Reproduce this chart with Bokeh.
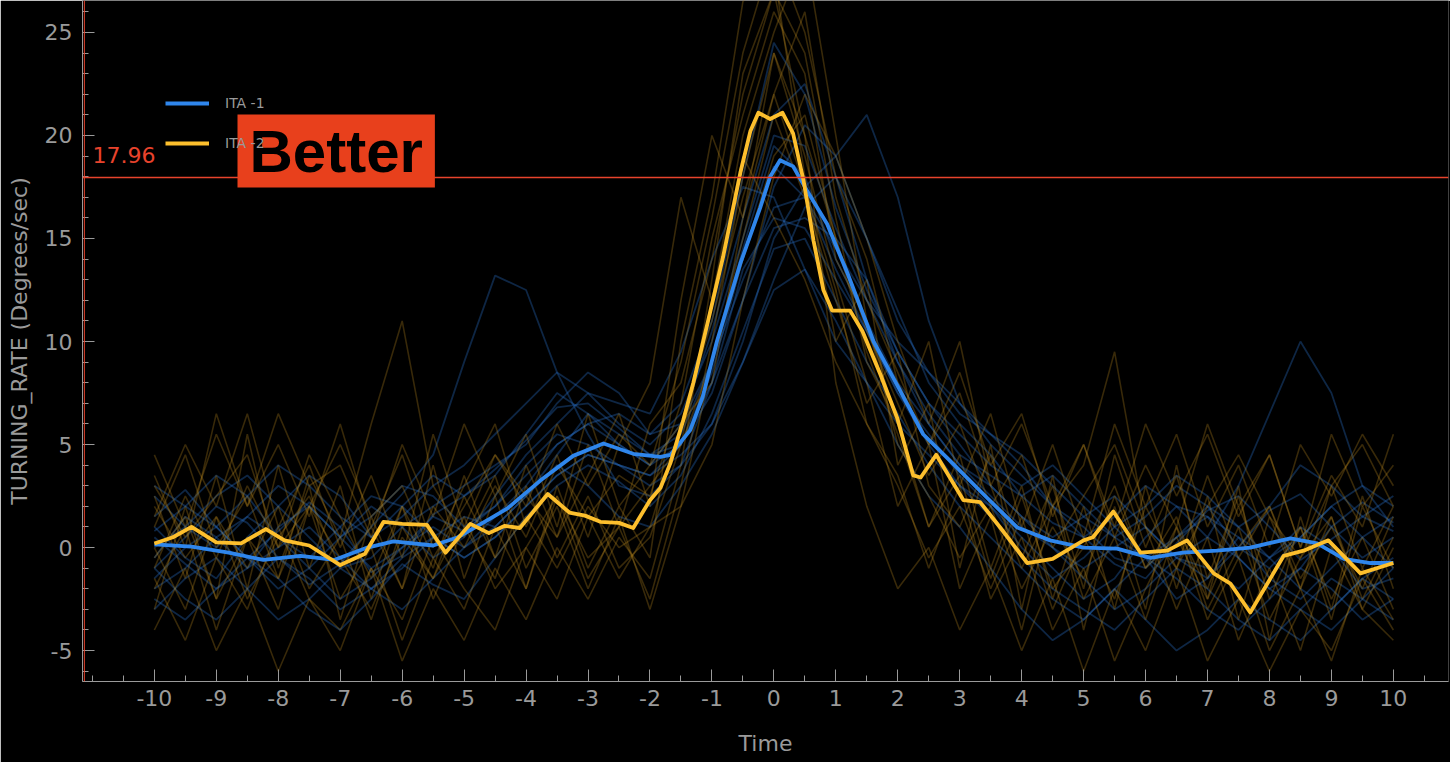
from bokeh.plotting import figure
from bokeh.models import Span, Label, Legend, LegendItem, Range1d, FixedTicker
from bokeh.embed import file_html
from bokeh.resources import INLINE

# ---------------- data ----------------
series_names = ["ITA -1", "ITA -2"]

# mean curve, ITA -1 (blue)
blue_t = [-10, -9.4, -8.8, -8.24, -7.64, -7.1, -6.56, -6.14, -5.5, -5.1, -4.58, -4.3, -3.77,
          -3.24, -2.75, -2.27, -1.83, -1.67, -1.35, -1.15, -0.92, -0.54, -0.22, -0.06, 0.1,
          0.31, 0.54, 0.86, 1.19, 1.61, 2.04, 2.41, 2.85, 3.38, 3.93, 4.46, 5.0, 5.54, 6.08,
          6.6, 7.15, 7.69, 8.34, 8.77, 9.2, 9.63, 10]
blue_v = [0.15, 0.05, -0.25, -0.6, -0.4, -0.6, 0.0, 0.3, 0.1, 0.5, 1.4, 1.9, 3.25,
          4.45, 5.05, 4.55, 4.4, 4.5, 5.7, 7.3, 10.0, 13.8, 16.5, 18.0, 18.8,
          18.5, 17.3, 15.7, 13.3, 10.0, 7.6, 5.5, 4.2, 2.6, 0.97, 0.35, 0.0, -0.05, -0.5,
          -0.25, -0.15, 0.0, 0.45, 0.2, -0.55, -0.75, -0.75]

# mean curve, second series (yellow)
yellow_t = [-10, -9.7, -9.4, -9.0, -8.6, -8.2, -7.9, -7.5, -7.0, -6.6, -6.3, -6.0, -5.6, -5.3,
            -4.9, -4.6, -4.35, -4.1, -3.65, -3.3, -3.05, -2.8, -2.5, -2.27, -2.0, -1.83,
            -1.67, -1.46, -1.3, -1.07, -0.82, -0.54, -0.38, -0.25, -0.06, 0.14, 0.31, 0.48,
            0.64, 0.8, 0.94, 1.23, 1.43, 1.72, 1.99, 2.25, 2.37, 2.62, 3.06, 3.33, 3.66,
            4.09, 4.5, 5.0, 5.15, 5.48, 5.92, 6.35, 6.67, 7.1, 7.37, 7.69, 8.23, 8.55, 8.95,
            9.47, 10]
yellow_v = [0.2, 0.5, 1.0, 0.25, 0.2, 0.9, 0.35, 0.1, -0.85, -0.3, 1.25, 1.15, 1.1, -0.25,
            1.15, 0.7, 1.05, 0.95, 2.6, 1.7, 1.55, 1.25, 1.2, 0.95, 2.3, 2.9,
            4.1, 6.2, 8.0, 10.9, 14.1, 18.2, 20.2, 21.1, 20.8, 21.1, 20.1, 17.8,
            14.9, 12.5, 11.5, 11.5, 10.5, 8.4, 6.3, 3.5, 3.4, 4.5, 2.3, 2.2, 0.95,
            -0.75, -0.55, 0.35, 0.5, 1.75, -0.25, -0.15, 0.35, -1.25, -1.75, -3.15, -0.4, -0.15, 0.35,
            -1.25, -0.75]

# individual (faint) trials, sampled every 0.5 s from -10 to 10
trial_t = [-10, -9.5, -9, -8.5, -8, -7.5, -7, -6.5, -6, -5.5, -5, -4.5, -4, -3.5, -3, -2.5,
           -2, -1.5, -1, -0.5, 0, 0.5, 1, 1.5, 2, 2.5, 3, 3.5, 4, 4.5, 5, 5.5, 6, 6.5, 7,
           7.5, 8, 8.5, 9, 9.5, 10]

blue_trials = [
    [1.5, 2.8, 1.0, -0.5, 0.8, 2.2, 1.0, -1.2, -0.4, 1.6, 2.5, 3.8, 5.2, 6.8, 7.0, 5.8, 4.5, 5.0, 7.5, 12.0, 17.5,
     20.5, 19.0, 15.0, 11.5, 8.0, 6.0, 4.5, 2.5, 1.2, 0.5, -0.8, -1.5, 0.2, 1.8, 2.5, 1.0, -0.6, 0.4, 1.5, 0.8],
    [-1.0, 0.5, 2.0, 1.2, -0.5, -1.8, -0.8, 1.0, 2.6, 4.5, 9.0, 13.2, 12.5, 8.5, 5.5, 3.0, 2.5, 4.0, 8.0, 13.5, 16.0,
     15.5, 13.0, 10.5, 7.5, 5.5, 3.5, 2.0, 0.5, -1.0, -2.5, -1.5, 0.5, 2.0, 1.5, -0.5, -2.0, -1.0, 1.0, 2.2, 1.2],
    [-2.5, -3.5, -2.0, -0.5, -1.5, -3.0, -4.0, -2.5, -0.8, -1.8, -2.5, -0.5, 1.5, 3.0, 4.0, 3.2, 2.0, 3.5, 6.5, 10.5, 14.5,
     15.0, 12.0, 9.0, 6.5, 4.0, 2.0, 0.5, -1.0, -2.5, -3.5, -2.0, -0.5, -1.5, -3.0, -4.0, -2.5, -1.0, -2.0, -3.5, -2.5],
    [0.5, -0.8, -2.0, -1.0, 1.0, 2.0, 0.5, -1.0, 0.0, 1.5, 0.8, 2.0, 3.5, 5.0, 6.0, 6.5, 5.5, 7.0, 11.0, 18.0, 24.5,
     22.0, 16.5, 12.5, 9.5, 7.0, 5.0, 3.0, 1.5, 0.5, 1.5, 2.5, 1.0, -0.5, -1.5, 0.0, 1.8, 2.6, 1.0, -0.5, 0.5],
    [2.5, 1.0, 0.0, 1.5, 3.0, 2.0, 0.5, 1.5, 3.0, 2.5, 1.0, 2.0, 4.0, 5.5, 5.0, 4.0, 3.5, 4.5, 6.0, 9.0, 13.0,
     16.5, 18.0, 15.0, 11.0, 8.5, 6.5, 5.5, 4.0, 2.0, 0.5, 1.5, 3.0, 2.0, 0.5, 3.0, 6.5, 10.0, 7.5, 3.0, 1.0],
    [-1.5, 0.0, 1.0, -0.5, -2.0, -1.0, 0.5, 2.0, 1.0, -0.5, 0.5, 2.5, 4.5, 6.0, 7.5, 7.0, 6.5, 9.5, 14.0, 17.5, 17.0,
     13.5, 10.0, 8.0, 6.0, 4.5, 3.0, 2.0, 0.0, -1.5, -0.5, 1.0, -0.5, -2.5, -1.5, 0.5, -0.5, -2.0, -3.0, -1.5, -0.5],
    [0.8, 2.0, 3.5, 2.5, 0.5, -0.5, 1.0, 2.5, 2.0, 0.5, -0.5, 0.5, 2.0, 3.5, 4.5, 4.0, 3.0, 4.0, 6.0, 10.0, 15.0,
     17.5, 19.0, 21.0, 17.0, 11.0, 7.0, 5.0, 3.5, 2.0, 1.0, -0.5, -1.0, 0.5, 2.0, 1.0, -0.5, 0.5, 2.0, 3.0, 2.0],
    [-3.0, -1.5, -0.5, -2.0, -3.5, -2.5, -1.0, -2.0, -3.0, -1.5, 0.0, 1.0, 2.5, 4.0, 3.0, 1.5, 1.0, 3.0, 5.5, 9.0, 12.5,
     13.5, 11.0, 8.0, 5.0, 2.5, 1.0, -1.0, -3.0, -4.5, -3.5, -2.0, -3.5, -5.0, -4.0, -2.5, -3.5, -4.5, -3.0, -1.5, -2.5],
    [1.0, -0.5, -1.5, 0.5, 2.0, 3.5, 2.5, 0.5, 1.5, 3.0, 4.0, 5.5, 7.0, 8.5, 7.5, 6.0, 5.0, 6.5, 10.0, 15.0, 20.0,
     19.5, 15.5, 12.0, 9.0, 6.5, 4.5, 3.5, 2.5, 3.5, 2.0, 0.5, 1.5, 3.0, 2.0, 0.0, -1.0, 0.5, 2.0, 0.5, -1.0],
    [-0.5, 1.5, 0.5, -1.0, 0.0, 1.0, -0.5, -2.0, -1.0, 0.5, 1.5, 1.0, 2.5, 4.5, 6.5, 5.5, 4.5, 5.5, 9.0, 14.5, 19.5,
     18.0, 14.0, 11.0, 8.0, 6.0, 4.0, 2.5, 1.0, 0.0, -1.0, 0.0, 1.0, -0.5, -1.0, -2.0, -0.5, 1.0, 0.0, -2.0, -1.5],
    [0.0, 1.0, 2.5, 3.5, 2.0, 0.5, -1.0, -0.5, 1.0, 2.0, 3.0, 4.0, 5.0, 7.0, 8.5, 7.5, 5.5, 6.0, 9.0, 13.0, 16.5,
     17.0, 14.5, 12.0, 10.0, 8.5, 7.0, 5.5, 4.5, 3.0, 1.5, 0.5, -0.5, 0.5, 1.5, 0.5, -1.5, -2.5, -1.0, 0.5, 1.5],
    [-2.0, -1.0, 0.5, 1.5, 0.5, -1.0, -2.5, -1.5, 0.0, 1.0, 0.0, 1.5, 3.0, 5.0, 6.0, 5.0, 4.0, 6.0, 10.5, 16.0, 21.0,
     22.5, 18.0, 13.0, 9.0, 6.0, 4.0, 3.0, 1.5, 0.0, -1.5, -3.0, -2.0, -0.5, 0.5, -0.5, -2.0, -3.0, -4.0, -2.5, -1.0],
    [3.0, 2.0, 1.0, 2.5, 4.0, 3.0, 1.5, 0.5, 2.0, 3.5, 2.5, 3.5, 5.5, 7.5, 6.5, 5.0, 4.0, 5.0, 8.0, 12.0, 15.5,
     16.0, 15.0, 13.0, 9.5, 7.0, 5.5, 4.0, 3.0, 4.0, 2.5, 1.0, 2.0, 3.5, 2.5, 1.0, 2.0, 4.0, 3.0, 1.5, 2.5],
    [-1.0, -2.5, -3.5, -2.0, -0.5, -1.5, -3.0, -2.0, -0.5, 0.5, -0.5, 0.5, 2.0, 3.5, 4.5, 4.0, 3.5, 5.0, 8.5, 14.0, 18.5,
     17.0, 13.5, 10.5, 7.5, 5.0, 3.0, 1.5, -0.5, -2.0, -3.0, -4.0, -2.5, -1.0, -2.0, -3.5, -4.5, -3.0, -1.5, -2.5, -3.5],
]

yellow_trials = [
    [2.5, -1.5, 3.5, -2.0, 4.0, -1.0, 3.0, -2.5, 2.0, -1.0, 3.5, -0.5, 4.0, 0.5, 5.0, 1.0, 6.0, 8.0, 14.0, 22.0, 27.0,
     24.0, 16.0, 9.0, 6.0, 1.0, 4.5, -1.0, 3.0, -2.5, 2.0, -3.0, 3.0, -2.0, 2.5, -3.5, 1.5, -2.0, 3.0, -1.0, 2.0],
    [-3.0, 2.0, -2.5, 5.5, -1.0, 3.0, -3.5, 1.5, -2.0, 4.0, -1.5, 2.5, -2.0, 3.0, -1.0, 2.0, -0.5, 10.0, 17.0, 26.5, 28.0,
     18.0, 10.0, 13.0, 4.0, 7.0, -1.0, 5.0, -3.0, 3.5, -4.0, 2.0, -3.0, 4.0, -2.5, 3.0, -4.5, 1.5, -3.0, 2.5, -2.0],
    [1.0, 4.5, 0.0, 2.5, -1.5, 3.5, 0.5, 6.0, 11.0, 3.0, 0.5, 3.5, -1.0, 2.0, -2.0, 1.5, -3.0, 2.0, 9.0, 15.0, 21.0,
     17.0, 12.0, 7.0, 9.5, 3.0, 1.0, 4.5, -0.5, 3.0, -2.0, 4.5, 0.0, 3.5, -1.5, 2.5, -2.5, 1.0, -3.5, 2.0, -1.0],
    [3.5, 0.0, 6.5, 2.0, 5.0, 1.5, 6.0, 1.0, 4.5, 0.0, 3.0, 6.0, 1.0, 4.5, 0.5, 5.0, 8.0, 17.0, 12.0, 20.0, 25.0,
     29.0, 20.0, 11.0, 6.0, 10.0, 3.0, 6.5, 1.0, 5.0, 0.5, 6.0, 2.0, 5.5, 1.0, 4.0, 0.0, 5.0, 2.5, 5.5, 3.0],
    [-2.0, 1.0, -4.0, 0.5, -3.0, 2.0, -2.5, 0.0, -4.5, -0.5, -3.0, 1.0, -2.0, 2.5, -1.5, 1.0, -2.5, 3.0, 10.0, 18.0, 24.0,
     19.0, 13.0, 8.0, 2.0, 5.0, -2.0, 1.5, -4.0, 2.0, 4.0, 9.5, 1.0, -3.0, 0.5, -4.5, -1.0, -5.0, 0.0, -3.0, -4.5],
    [0.0, -3.0, 1.5, -1.0, 2.0, -2.0, 0.5, -3.5, 1.0, -1.5, 2.5, -0.5, 1.5, -1.0, 2.0, 0.0, 1.0, 2.0, 5.0, 12.0, 18.0,
     22.0, 19.0, 15.0, 10.0, 6.0, 10.0, 3.0, -1.0, 2.0, -2.5, 0.5, -3.5, 1.0, -2.0, 2.0, -1.5, 1.0, -2.5, 0.5, -3.0],
    [-4.0, -1.0, -5.0, -2.0, -6.0, -2.5, -4.0, -1.0, -5.5, -2.0, -4.5, -1.0, -3.5, 0.0, -2.5, 0.5, -1.5, 4.0, 13.0, 23.0, 27.0,
     20.0, 8.0, 2.0, -2.0, 0.0, -4.0, -1.0, -5.0, -1.5, -6.0, -2.0, -5.0, -1.0, -5.5, -2.5, -6.0, -3.0, -5.0, -1.5, -4.0],
    [4.5, 1.0, 5.5, 2.0, 6.5, 3.0, 4.0, 0.5, 5.0, 1.5, 6.0, 2.5, 5.5, 1.0, 6.5, 2.0, 4.0, 6.0, 8.0, 16.0, 22.0,
     26.0, 17.0, 12.0, 8.5, 5.0, 7.5, 3.0, 6.0, 2.0, 5.0, 1.0, 6.0, 2.5, 5.5, 1.5, 4.5, 0.0, 5.5, 2.0, 4.0],
    [-1.0, 2.5, -0.5, 3.0, 0.0, 4.5, 1.5, -1.5, 2.0, -2.5, 1.0, -1.5, 3.0, -0.5, 2.5, -1.0, 0.5, 5.0, 12.0, 19.0, 16.0,
     13.0, 9.0, 6.0, 3.0, -0.5, 2.0, -2.0, 1.5, -3.0, 0.5, -2.5, 2.0, -1.0, 3.5, -0.5, 2.0, -2.0, 1.5, -2.5, 0.5],
    [2.0, -0.5, 1.5, -2.5, 0.5, 2.5, -1.0, 1.0, -2.0, 2.0, 0.0, 3.0, 0.5, 4.0, 1.5, 3.5, 2.5, 7.0, 15.0, 21.0, 26.0,
     23.0, 14.0, 11.0, 5.0, 2.5, -0.5, 2.0, -2.0, 1.0, -1.5, 2.5, -1.0, 1.5, -3.0, 0.0, 2.0, -1.5, 1.0, -2.0, 1.5],
    [1.5, 5.0, 2.0, 6.5, 1.0, 4.0, 0.0, 3.5, -0.5, 5.5, 1.0, 4.5, 2.0, 6.0, 3.0, 5.5, 4.0, 9.0, 16.0, 24.0, 29.0,
     25.0, 18.0, 14.0, 8.0, 5.0, 8.5, 4.0, 6.5, 1.5, 5.0, 0.5, 4.0, 1.0, 6.0, 2.0, 4.5, 0.0, 3.5, 1.0, 5.5],
    [-1.5, -4.5, -0.5, -3.0, 1.0, -2.5, -5.0, -1.0, -3.5, 0.5, -2.0, -4.0, 0.0, -2.5, 1.5, -1.5, 1.0, 6.0, 11.0, 17.0, 22.0,
     17.5, 12.5, 6.0, 3.5, -1.0, 3.0, -2.5, 0.5, -4.0, -1.0, -5.5, -2.0, 1.0, -3.5, -0.5, -5.0, -2.0, -5.5, -1.0, -3.5],
    [3.0, 0.5, 2.5, 4.5, 0.0, 2.0, 5.0, 1.5, 3.0, -0.5, 2.0, 4.5, 2.5, 0.5, 3.5, 6.5, 2.0, 12.0, 20.0, 16.0, 24.0,
     20.0, 15.0, 10.5, 7.0, 3.5, 6.0, 2.0, 4.5, 0.0, 2.5, 5.0, 1.0, -1.0, 2.0, 4.5, 1.5, -0.5, 3.0, 5.0, 2.0],
    [-0.5, 1.5, -2.5, 0.5, -1.5, 2.0, -0.5, -3.0, 0.5, -1.5, 1.5, -2.0, 0.0, 2.5, -0.5, 1.0, 3.0, 5.0, 9.0, 14.0, 19.0,
     21.0, 15.0, 9.5, 5.5, 1.0, 3.5, -1.5, 2.5, -2.0, 0.0, 3.0, -1.0, 0.5, -2.5, 1.0, -3.5, -0.5, 1.5, -3.0, 0.0],
]

threshold = 17.96
x_ticks = list(range(-10, 11))
x_minor_ticks = [v / 2 for v in range(-22, 22)]
y_ticks = [-5, 0, 5, 10, 15, 20, 25]
y_minor_ticks = list(range(-6, 27))

# ---------------- style ----------------
BG = "#000000"
AXIS_GRAY = "#9a9a9a"
BLUE = "#2f86ec"
YELLOW = "#fdbf2d"
FAINT_BLUE = "#2a70c8"
FAINT_YELLOW = "#b8891e"
RED = "#e8432c"
FONT = "DejaVu Sans"
BOLD_FONT = "Liberation Sans"

p = figure(width=1450, height=762, output_backend="svg", toolbar_location=None,
           x_range=Range1d(-11.16, 10.89), y_range=Range1d(-6.5, 26.55),
           background_fill_color=BG, border_fill_color=BG,
           min_border_left=82, min_border_right=2, min_border_top=0, min_border_bottom=81)
p.outline_line_color = None
p.grid.visible = False

for tr in blue_trials:
    p.line(trial_t, tr, line_color=FAINT_BLUE, line_alpha=0.34, line_width=1.8)
for tr in yellow_trials:
    p.line(trial_t, tr, line_color=FAINT_YELLOW, line_alpha=0.30, line_width=1.6)

r_blue = p.line(blue_t, blue_v, line_color=BLUE, line_width=3.8, line_join="round")
r_yellow = p.line(yellow_t, yellow_v, line_color=YELLOW, line_width=3.8, line_join="round")

# axes
p.xaxis.ticker = FixedTicker(ticks=x_ticks, minor_ticks=x_minor_ticks)
p.yaxis.ticker = FixedTicker(ticks=y_ticks, minor_ticks=y_minor_ticks)
p.xaxis.major_label_overrides = {t: str(t) for t in x_ticks}
p.yaxis.major_label_overrides = {t: str(t) for t in y_ticks}
p.xaxis.axis_label = "Time"
p.yaxis.axis_label = "TURNING_RATE (Degrees/sec)"
for ax in (p.xaxis[0], p.yaxis[0]):
    ax.axis_line_color = AXIS_GRAY
    ax.major_tick_line_color = AXIS_GRAY
    ax.minor_tick_line_color = AXIS_GRAY
    ax.major_tick_in = 12
    ax.major_tick_out = 0
    ax.minor_tick_in = 6
    ax.minor_tick_out = 0
    ax.major_label_text_color = AXIS_GRAY
    ax.major_label_text_font = FONT
    ax.major_label_text_font_size = "22px"
    ax.axis_label_text_color = AXIS_GRAY
    ax.axis_label_text_font = FONT
    ax.axis_label_text_font_style = "normal"
    ax.axis_label_text_font_size = "22px"
p.xaxis.major_label_standoff = 8
p.yaxis.major_label_standoff = 10
p.xaxis.axis_label_standoff = 22
p.yaxis.axis_label_standoff = 10

# threshold line and label
p.add_layout(Span(location=threshold, dimension="width", line_color=RED, line_width=1.3))
p.add_layout(Span(location=-11.13, dimension="height", line_color=RED, line_width=1))
p.add_layout(Label(x=10, x_units="screen", y=threshold, y_offset=14, text=f"{threshold:.2f}",
                   text_color=RED, text_font=FONT, text_font_size="22px"))

legend = Legend(items=[LegendItem(label=series_names[0], renderers=[r_blue]),
                       LegendItem(label=series_names[1], renderers=[r_yellow])],
                location=(83, 528), background_fill_alpha=0, border_line_alpha=0,
                label_text_color=AXIS_GRAY, label_text_font=FONT, label_text_font_size="14px",
                glyph_width=44, glyph_height=20, spacing=20, padding=0, margin=0,
                label_standoff=16)
p.add_layout(legend)

p.add_layout(Label(x=155, x_units="screen", y=681 - 187, y_units="screen", text="Better",
                   text_color="#000000", text_font=BOLD_FONT, text_font_style="bold",
                   text_font_size="60px", background_fill_color="#e8401c",
                   padding=(12, 3)))

open("out.html", "w").write(file_html(p, INLINE))
